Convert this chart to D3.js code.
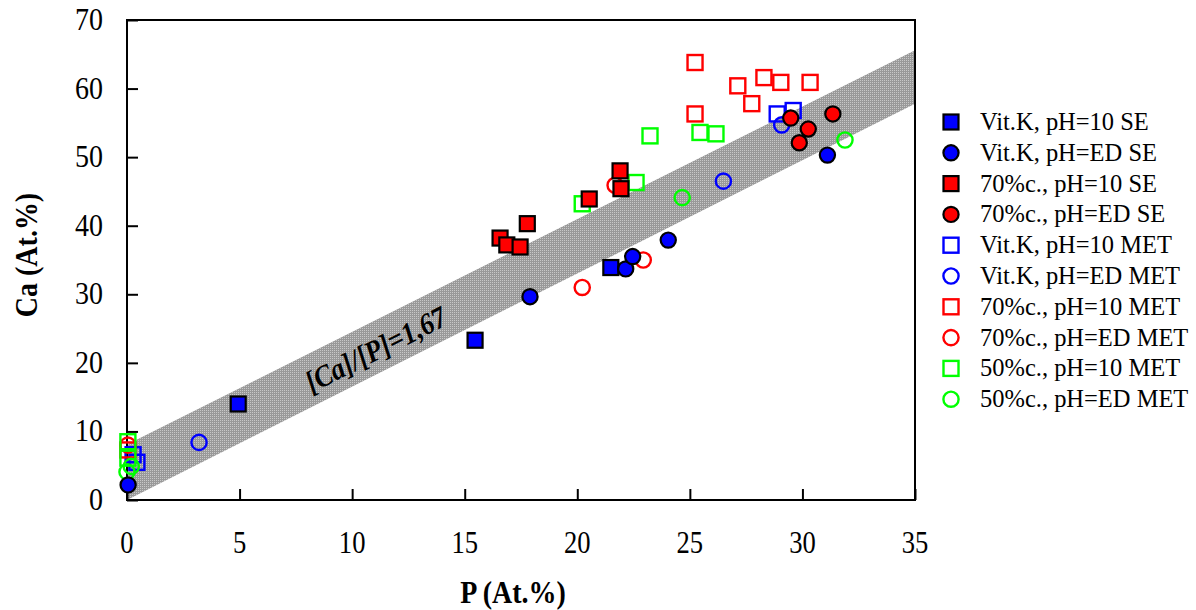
<!DOCTYPE html>
<html><head><meta charset="utf-8">
<script src="https://cdn.jsdelivr.net/npm/d3@7"></script>
<style>body{margin:0;background:#fff}</style>
</head><body><svg id="c" width="1196" height="610"></svg>
<script>
const xTicks=[0,5,10,15,20,25,30,35];
const yTicks=[0,10,20,30,40,50,60,70];
const xTitle="P (At.%)";
const yTitle="Ca (At.%)";
const bandLabel="[Ca]/[P]=1,67";
const bandLower=[[0,0],[35,57.8]];
const bandUpper=[[0,8.1],[35,65.6]];
const bandLabelPos=[11.04,22.0];

const seriesNames=["Vit.K, pH=10 SE","Vit.K, pH=ED SE","70%c., pH=10 SE","70%c., pH=ED SE","Vit.K, pH=10 MET","Vit.K, pH=ED MET","70%c., pH=10 MET","70%c., pH=ED MET","50%c., pH=10 MET","50%c., pH=ED MET"];
const vitK10SE=[[4.94,14.0],[15.46,23.3],[21.49,33.9]];
const vitKEDSE=[[17.90,29.65],[22.15,33.7],[22.46,35.5],[24.04,37.9],[31.11,50.3],[0.05,2.2]];
const c70_10SE=[[16.57,38.2],[16.87,37.2],[17.46,36.9],[17.78,40.3],[20.53,43.9],[21.90,48.0],[21.94,45.4]];
const c70EDSE=[[29.48,55.7],[30.26,54.1],[29.86,52.1],[31.35,56.3]];
const vitK10MET=[[28.88,56.3],[29.59,56.8],[0.27,6.6],[0.44,5.5]];
const vitKEDMET=[[3.20,8.4],[26.49,46.5],[29.08,54.7]];
const c70_10MET=[[25.23,63.8],[25.23,56.3],[27.13,60.4],[27.75,57.8],[28.29,61.6],[29.04,60.9],[30.34,60.9],[0.04,7.3]];
const c70EDMET=[[20.22,31.0],[22.93,35.0],[21.68,45.9],[0.04,8.0]];
const c50_10MET=[[20.22,43.2],[22.61,46.3],[23.23,53.1],[25.45,53.6],[26.16,53.4],[0.04,8.5],[0.04,6.1]];
const c50EDMET=[[24.66,44.1],[31.89,52.5],[0,4.1],[0.19,4.9]];

const seriesData=[vitK10SE,vitKEDSE,c70_10SE,c70EDSE,vitK10MET,vitKEDMET,c70_10MET,c70EDMET,c50_10MET,c50EDMET];
const seriesShape=["square","circle","square","circle","square","circle","square","circle","square","circle"];
const seriesColor=["#0000ff","#0000ff","#ff0000","#ff0000","#0000ff","#0000ff","#ff0000","#ff0000","#00ff00","#00ff00"];
const seriesFilled=[true,true,true,true,false,false,false,false,false,false];
const drawOrder=[4,5,6,7,8,9,0,1,2,3];

const svg=d3.select("#c");
svg.append("rect").attr("width",1196).attr("height",610).attr("fill","#fff");
const x=d3.scaleLinear().domain([0,35]).range([127,915]);
const y=d3.scaleLinear().domain([0,70]).range([500,20]);
const serif="'Liberation Serif','Times New Roman',serif";

const defs=svg.append("defs");
const pat=defs.append("pattern").attr("id","dots").attr("width",2).attr("height",2).attr("patternUnits","userSpaceOnUse");
pat.append("rect").attr("width",2).attr("height",2).attr("fill","#999");
pat.append("rect").attr("width",1).attr("height",1).attr("fill","#c8c8c8");

const bandPts=[bandLower[0],bandLower[1],bandUpper[1],bandUpper[0]];
svg.append("path").attr("d",d3.line().x(d=>x(d[0])).y(d=>y(d[1]))(bandPts)+"Z").attr("fill","url(#dots)");

const ang=Math.atan2(y(bandLower[0][1])-y(bandLower[1][1]),x(bandLower[1][0])-x(bandLower[0][0]))*180/Math.PI;
svg.append("text").attr("transform",`translate(${x(bandLabelPos[0])},${y(bandLabelPos[1])}) rotate(${-ang}) scale(1,1.12)`)
 .attr("text-anchor","middle").attr("dominant-baseline","central")
 .attr("font-family",serif).attr("font-weight","bold").attr("font-style","italic").attr("font-size",27)
 .attr("fill","#000").text(bandLabel);

svg.append("rect").attr("x",x(0)).attr("y",y(70)).attr("width",x(35)-x(0)).attr("height",y(0)-y(70))
 .attr("fill","none").attr("stroke","#000").attr("stroke-width",2);

const xa=svg.append("g").attr("transform",`translate(0,${y(0)})`)
 .call(d3.axisBottom(x).tickValues(xTicks).tickSize(-11).tickFormat(""));
const ya=svg.append("g").attr("transform",`translate(${x(0)},0)`)
 .call(d3.axisLeft(y).tickValues(yTicks).tickSize(-11).tickFormat(""));
[xa,ya].forEach(a=>{a.select(".domain").remove();
 a.selectAll("line").attr("stroke","#000").attr("stroke-width",2);});

// tick labels (slightly tall glyphs as in reference)
xTicks.forEach(t=>{
  svg.append("text").attr("transform",`translate(${x(t)},${y(0)+53}) scale(0.95,1.12)`)
   .attr("text-anchor","middle").attr("font-family",serif).attr("font-size",28).attr("fill","#000").text(d3.format("d")(t));
});
yTicks.forEach(t=>{
  svg.append("text").attr("transform",`translate(${x(0)-24},${y(t)+10}) scale(1,1.1)`)
   .attr("text-anchor","end").attr("font-family",serif).attr("font-size",28).attr("fill","#000").text(d3.format("d")(t));
});

svg.append("text").attr("transform",`translate(${(x(0)+x(35))/2-8},603) scale(1,1.15)`).attr("text-anchor","middle")
 .attr("font-family",serif).attr("font-weight","bold").attr("font-size",28).text(xTitle);
svg.append("text").attr("transform",`translate(37,255) rotate(-90) scale(1,1.1)`).attr("text-anchor","middle")
 .attr("font-family",serif).attr("font-weight","bold").attr("font-size",28).text(yTitle);

function drawMarker(g,shape,color,filled,cx,cy){
  if(shape==="square"){
    g.append("rect").attr("x",cx-7.5).attr("y",cy-7.5).attr("width",15).attr("height",15)
     .attr("fill",filled?color:"none").attr("stroke",filled?"#000":color).attr("stroke-width",filled?2.2:2.4);
  } else {
    g.append("circle").attr("cx",cx).attr("cy",cy).attr("r",7.6)
     .attr("fill",filled?color:"none").attr("stroke",filled?"#000":color).attr("stroke-width",filled?2.2:2.4);
  }
}
const mg=svg.append("g");
drawOrder.forEach(i=>{
  seriesData[i].forEach(d=>drawMarker(mg,seriesShape[i],seriesColor[i],seriesFilled[i],x(d[0]),y(d[1])));
});

const lg=svg.append("g");
seriesNames.forEach((n,i)=>{
  const ly=122+i*30.8;
  drawMarker(lg,seriesShape[i],seriesColor[i],seriesFilled[i],951,ly);
  lg.append("text").attr("transform",`translate(980,${ly+8}) scale(1,1.05)`)
   .attr("font-family",serif).attr("font-size",24.5).attr("fill","#000").text(n);
});
</script></body></html>
